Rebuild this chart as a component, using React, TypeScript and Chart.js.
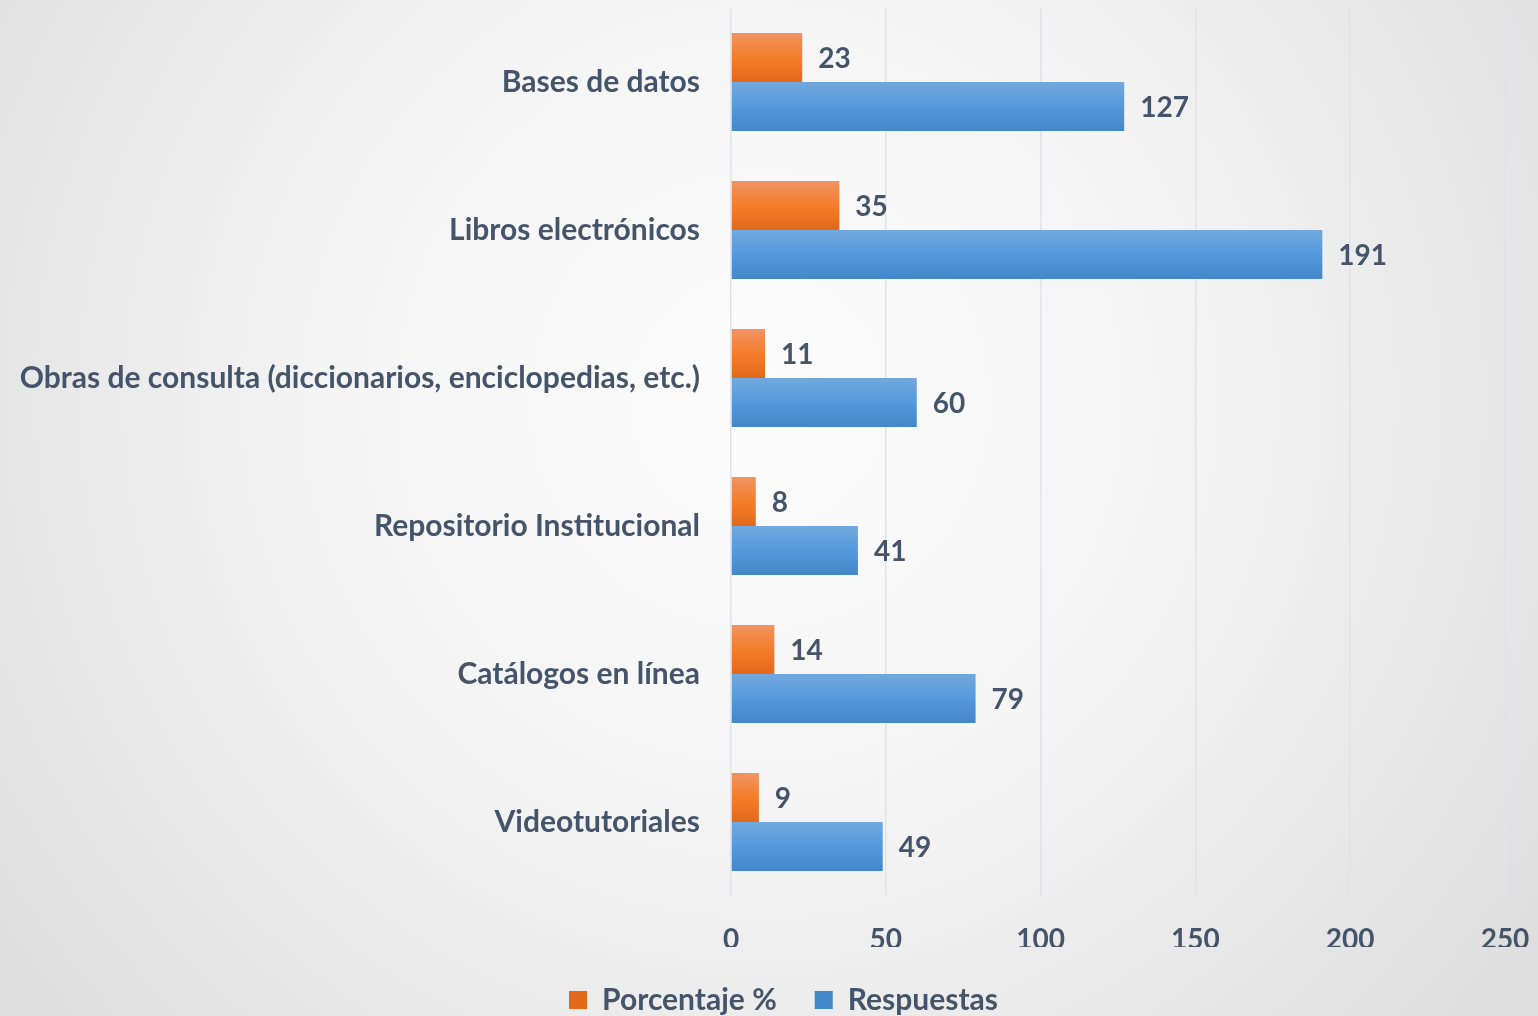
import React, { useEffect, useRef } from "react";
import { Chart, registerables } from "chart.js";

Chart.register(...registerables);

const categories = [
  "Bases de datos",
  "Libros electrónicos",
  "Obras de consulta (diccionarios, enciclopedias, etc.)",
  "Repositorio Institucional",
  "Catálogos en línea",
  "Videotutoriales",
];
const porcentaje = [23, 35, 11, 8, 14, 9];
const respuestas = [127, 191, 60, 41, 79, 49];
const xTickValues = [0, 50, 100, 150, 200, 250];
const seriesNames = ["Porcentaje %", "Respuestas"];

const TEXT = "#44546a";
const FONT = "Lato, 'Open Sans', sans-serif";
const TEXT_SIZE = 30;
const NUM_SIZE = 28;
const CAT_PCT = 0.662;
const LEGEND_SHIFT = 31;
const ORANGE = ["#f19462", "#f47d2a", "#e2681a"];
const BLUE = ["#71a8de", "#5599dd", "#4287c8"];

function barGradient(ctx: any, stops: string[]) {
  const chart = ctx.chart;
  const y = chart.scales && chart.scales.y;
  if (ctx.type !== "data" || !y || !chart.chartArea) return stops[1];
  const center = y.getPixelForValue(ctx.dataIndex);
  const band = (y.bottom - y.top) / categories.length;
  const h = (band * CAT_PCT) / 2;
  const top = ctx.datasetIndex === 0 ? center - h : center;
  if (!isFinite(top) || !isFinite(h) || h <= 0) return stops[1];
  const g = chart.ctx.createLinearGradient(0, top, 0, top + h);
  g.addColorStop(0, stops[0]);
  g.addColorStop(0.5, stops[1]);
  g.addColorStop(1, stops[2]);
  return g;
}

const backgroundPlugin = {
  id: "bgRadial",
  beforeDraw(chart: any) {
    const { ctx, width, height } = chart;
    ctx.save();
    const g = ctx.createRadialGradient(760, 400, 0, 760, 400, 950);
    g.addColorStop(0, "#fcfcfc");
    g.addColorStop(0.45, "#f4f4f4");
    g.addColorStop(1, "#dedede");
    ctx.fillStyle = g;
    ctx.fillRect(0, 0, width, height);
    ctx.restore();
  },
};

const legendShiftPlugin = {
  id: "legendShift",
  afterLayout(chart: any) {
    if (chart.legend) {
      chart.legend.left += LEGEND_SHIFT;
      chart.legend.right += LEGEND_SHIFT;
    }
  },
};

const valueLabelPlugin = {
  id: "valueLabels",
  afterDatasetsDraw(chart: any) {
    const { ctx } = chart;
    ctx.save();
    ctx.font = `bold ${NUM_SIZE}px ${FONT}`;
    ctx.fillStyle = TEXT;
    ctx.textAlign = "left";
    ctx.textBaseline = "middle";
    chart.data.datasets.forEach((ds: any, di: number) => {
      const meta = chart.getDatasetMeta(di);
      meta.data.forEach((el: any, i: number) => {
        ctx.fillText(String(ds.data[i]), el.x + 16, el.y + 1);
      });
    });
    ctx.restore();
  },
};

export default function App() {
  const ref = useRef<HTMLCanvasElement | null>(null);

  useEffect(() => {
    document.body.style.margin = "0";
    const canvas = ref.current;
    if (!canvas) return;
    const chart = new Chart(canvas, {
      type: "bar",
      data: {
        labels: categories,
        datasets: [
          {
            label: seriesNames[0],
            data: porcentaje,
            backgroundColor: (c: any) => barGradient(c, ORANGE),
            borderWidth: 0,
            categoryPercentage: CAT_PCT,
            barPercentage: 1,
          },
          {
            label: seriesNames[1],
            data: respuestas,
            backgroundColor: (c: any) => barGradient(c, BLUE),
            borderWidth: 0,
            categoryPercentage: CAT_PCT,
            barPercentage: 1,
          },
        ],
      },
      options: {
        indexAxis: "y",
        responsive: false,
        animation: false,
        layout: { padding: { top: 8, right: 33, left: 0, bottom: -9 } },
        plugins: {
          legend: {
            position: "bottom",
            labels: {
              color: TEXT,
              font: { family: FONT, size: TEXT_SIZE, weight: "bold" },
              boxWidth: 18,
              boxHeight: 18,
              padding: 38,
            },
          },
          tooltip: { enabled: false },
        },
        scales: {
          x: {
            min: 0,
            max: 250,
            afterBuildTicks: (s: any) => {
              s.ticks = xTickValues.map((v) => ({ value: v }));
            },
            afterFit: (s: any) => {
              s.height = 51;
              s.paddingLeft = 0;
              s.paddingRight = 0;
            },
            grid: { color: "#dfe3e9", lineWidth: 1.5, drawTicks: false },
            border: { display: false },
            ticks: {
              color: TEXT,
              padding: 27,
              font: { family: FONT, size: NUM_SIZE, weight: "bold" },
            },
          },
          y: {
            afterFit: (s: any) => {
              s.width = 731;
              s.paddingTop = 0;
              s.paddingBottom = 0;
            },
            grid: { display: false, drawTicks: false },
            border: { display: false },
            ticks: {
              color: TEXT,
              padding: 31,
              font: { family: FONT, size: TEXT_SIZE, weight: "bold" },
            },
          },
        },
      },
      plugins: [backgroundPlugin, legendShiftPlugin, valueLabelPlugin],
    } as any);
    return () => chart.destroy();
  }, []);

  return (
    <div style={{ position: "fixed", left: 0, top: 0, width: 1538, height: 1016 }}>
      <canvas ref={ref} width={1538} height={1016} style={{ display: "block" }} />
    </div>
  );
}
